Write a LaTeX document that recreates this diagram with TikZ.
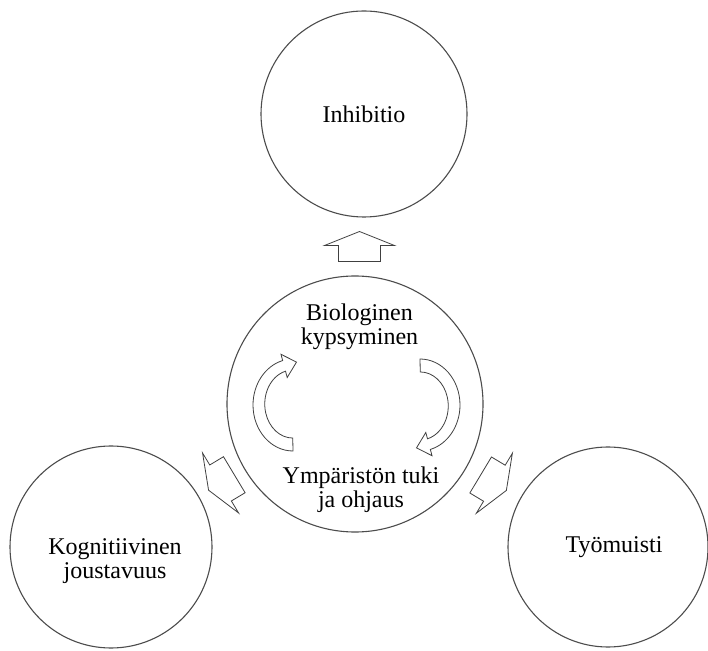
\documentclass[tikz,border=0pt]{standalone}
\usepackage{fontspec}
\setmainfont{Liberation Serif}
\usetikzlibrary{calc}

% kaareva nuoli keskiympyrän sisällä
\newcommand{\kiertonuoli}[1]{%
  \draw [nuoli, #1] (293,199) arc[start angle=270, end angle=105, x radius=40, y radius=46]
    -- (281.0,295.7) -- (296.5,287.9) -- (287.2,272.5) -- (285.5,278.8)
    arc[start angle=105, end angle=270, x radius=28, y radius=34] -- cycle;}

\begin{document}
\begin{tikzpicture}[x=1pt, y=1pt,
    % tyylit
    ympyra/.style={circle, draw=black!70, line width=1.1pt, inner sep=0pt},
    teksti/.style={font=\fontsize{24}{24}\selectfont, align=center, inner sep=0pt},
    nuoli/.style={draw=black!75, fill=white, line width=0.8pt, line join=miter}
]
    \useasboundingbox (0,0) rectangle (708,650);

    % ympyrät
    \node [ympyra, minimum size=206pt] (inh) at (364,536) {};
    \node [ympyra, minimum size=256pt] (bio) at (355,246) {};
    \node [ympyra, minimum size=202pt] (kog) at (111,103) {};
    \node [ympyra, minimum size=200pt] (tyo) at (608,103) {};

    % tekstit
    \node [teksti] (inhteksti) at (364,536) {Inhibitio};
    \node [teksti] (bioteksti) at (359.5,323.6) {Biologinen\\kypsyminen};
    \node [teksti] (ympteksti) at (361,160.5) {Ympäristön tuki\\ja ohjaus};
    \node [teksti] (kogteksti) at (115,88.6) {Kognitiivinen\\joustavuus};
    \node [teksti] (tyoteksti) at (614,102.4) {Työmuisti};

    % nuolet keskeltä ulospäin
    \draw [nuoli, shift={($(inh.270)!0.5!(bio.90)$)}, rotate=90]
        (15,0) -- (1,35) -- (1,21) -- (-15,21) -- (-15,-21) -- (1,-21) -- (1,-35) -- cycle;
    \draw [nuoli, shift={($(kog.31)!0.5!(bio.211)$)}, rotate=211]
        (15,0) -- (1,35) -- (1,21) -- (-15,21) -- (-15,-21) -- (1,-21) -- (1,-35) -- cycle;
    \draw [nuoli, shift={($(tyo.149)!0.5!(bio.329)$)}, rotate=-31]
        (15,0) -- (1,35) -- (1,21) -- (-15,21) -- (-15,-21) -- (1,-21) -- (1,-35) -- cycle;

    % kiertävät nuolet
    \kiertonuoli{}
    \kiertonuoli{rotate around={180:(356.5,245)}}
\end{tikzpicture}
\end{document}
